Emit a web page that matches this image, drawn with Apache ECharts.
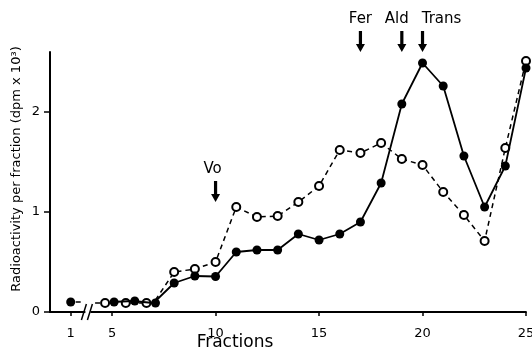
<!DOCTYPE html>
<html>
<head>
<meta charset="utf-8">
<script src="https://cdn.jsdelivr.net/npm/echarts@6/dist/echarts.min.js"></script>
<style>
html, body { margin: 0; padding: 0; background: #fff; }
#chart { width: 532px; height: 353px; }
</style>
</head>
<body>
<div id="chart"></div>
<script>
// axis slots: leading pad, fraction 1, the broken stretch, then fractions 5..25
const fractionSlots = ['', '1', '', '5', '6', '7', '8', '9', '10', '11', '12', '13', '14', '15', '16', '17', '18', '19', '20', '21', '22', '23', '24', '25'];
const labelledFractions = ['1', '5', '10', '15', '20', '25'];
const yTicks = [0, 1, 2];

// radioactivity per fraction (dpm x 10^3)
const filledValues = [null, 0.10, null, 0.10, 0.11, 0.09, 0.29, 0.36, 0.355, 0.60, 0.62, 0.62, 0.78, 0.72, 0.78, 0.90, 1.29, 2.08, 2.49, 2.26, 1.56, 1.05, 1.46, 2.44];
const openValues = [null, null, null, 0.09, 0.09, 0.09, 0.40, 0.43, 0.50, 1.05, 0.95, 0.96, 1.10, 1.26, 1.62, 1.59, 1.69, 1.53, 1.47, 1.20, 0.97, 0.71, 1.64, 2.51];

// elution markers
const markerNames = ['Vo', 'Fer', 'Ald', 'Trans'];
const markerSlots = [8, 15, 17, 18]; // fractions 10, 17, 19, 20
const markerTips = [1.1, 2.6, 2.6, 2.6];

const font = 'DejaVu Sans';
const chart = echarts.init(document.getElementById('chart'));

// points where both curves sit on top of each other get nudged apart
const overlap = filledValues.map((v, i) => v != null && openValues[i] != null && Math.abs(v - openValues[i]) < 0.05);

const option = {
	animation: false,
	grid: { left: 50, right: 6, top: 52, bottom: 41, outerBoundsMode: 'none', containLabel: false },
	xAxis: {
		type: 'category',
		data: fractionSlots,
		boundaryGap: false,
		axisLine: { lineStyle: { color: '#000', width: 1.8 } },
		axisTick: {
			alignWithLabel: true,
			length: 4,
			interval: (i, v) => labelledFractions.includes(v),
			lineStyle: { color: '#000', width: 1.5 },
		},
		axisLabel: {
			interval: (i, v) => labelledFractions.includes(v),
			margin: 15,
			color: '#000',
			fontFamily: font,
			fontSize: 13,
			hideOverlap: false,
		},
		splitLine: { show: false },
		name: 'Fractions',
		nameLocation: 'middle',
		nameGap: 22,
		nameMoveOverlap: false,
		nameTextStyle: { color: '#000', fontFamily: font, fontSize: 17, padding: [0, 106, 0, 0] },
	},
	yAxis: {
		type: 'value',
		min: 0,
		max: 2.6,
		axisLine: { show: true, lineStyle: { color: '#000', width: 2 } },
		axisTick: { show: true, customValues: yTicks, length: 6, lineStyle: { color: '#000', width: 1.5 } },
		axisLabel: { customValues: yTicks, margin: 10, color: '#000', fontFamily: font, fontSize: 13 },
		splitLine: { show: false },
		name: 'Radioactivity per fraction (dpm x 10³)',
		nameLocation: 'middle',
		nameGap: 27,
		nameMoveOverlap: false,
		nameTextStyle: { color: '#000', fontFamily: font, fontSize: 13, padding: [0, 0, 0, 26] },
	},
	series: [
		{
			name: 'open',
			type: 'line',
			z: 2,
			symbol: 'emptyCircle',
			symbolSize: 8,
			itemStyle: { color: '#000', borderWidth: 1.2 },
			lineStyle: { color: '#000', width: 1.5, type: [5, 4] },
			data: openValues.map((v, i) => (overlap[i] ? { value: v, symbolOffset: [-7, 0] } : v)),
		},
		{
			name: 'filled',
			type: 'line',
			z: 3,
			symbol: 'circle',
			symbolSize: 9,
			itemStyle: { color: '#000' },
			lineStyle: { color: '#000', width: 1.8 },
			data: filledValues.map((v, i) => (overlap[i] ? { value: v, symbolOffset: [2, 0] } : v)),
		},
	],
};
chart.setOption(option);

const toPx = (slot, val) => chart.convertToPixel({ seriesIndex: 0 }, [slot, val]);
const graphics = [];

// axis break "//" and the short dashes running into it
const bx = toPx(2, 0)[0] - 4;
const by = toPx(2, 0)[1];
graphics.push(
	{ type: 'rect', shape: { x: bx - 2, y: by - 3, width: 5, height: 6 }, style: { fill: '#fff' }, z: 50 },
	{ type: 'line', shape: { x1: bx - 6, y1: by + 8, x2: bx - 1, y2: by - 8 }, style: { stroke: '#000', lineWidth: 1.5 }, z: 51 },
	{ type: 'line', shape: { x1: bx, y1: by + 8, x2: bx + 5, y2: by - 8 }, style: { stroke: '#000', lineWidth: 1.5 }, z: 51 },
);
const d1 = toPx(1, filledValues[1]);
const d2 = toPx(3, openValues[3]);
graphics.push(
	{ type: 'line', shape: { x1: d1[0] + 5, y1: d1[1], x2: d1[0] + 10, y2: d1[1] }, style: { stroke: '#000', lineWidth: 1.5 }, z: 51 },
	{ type: 'line', shape: { x1: d2[0] - 17, y1: d2[1], x2: d2[0] - 12, y2: d2[1] }, style: { stroke: '#000', lineWidth: 1.5 }, z: 51 },
);

// arrows with their labels
const labelShift = [-3, 0, -5, 19];
markerNames.forEach((name, k) => {
	const p = toPx(markerSlots[k], markerTips[k]);
	const x = p[0];
	const tip = p[1];
	graphics.push({
		type: 'polygon',
		shape: {
			points: [
				[x - 1.6, tip - 21], [x + 1.6, tip - 21], [x + 1.6, tip - 8], [x + 4.5, tip - 8],
				[x, tip], [x - 4.5, tip - 8], [x - 1.6, tip - 8],
			],
		},
		style: { fill: '#000' },
		z: 60,
	});
	graphics.push({
		type: 'text',
		x: x + labelShift[k],
		y: tip - 33,
		style: { text: name, fill: '#000', font: '15px ' + font, align: 'center', verticalAlign: 'middle' },
		z: 60,
	});
});

chart.setOption({ graphic: graphics });
</script>
</body>
</html>
